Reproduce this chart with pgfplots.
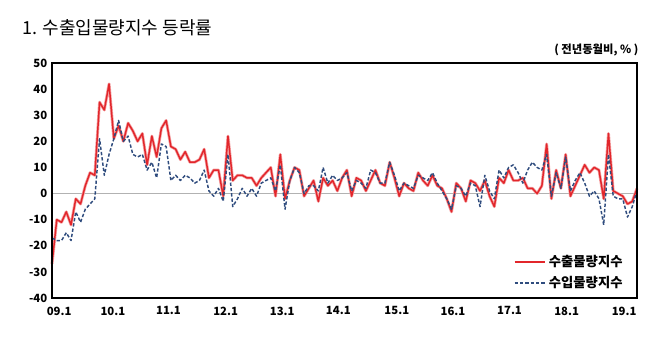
\documentclass[border=0pt]{standalone}
\usepackage{fontspec}
\setmainfont{Noto Sans CJK KR}
\usepackage{pgfplots}
\usepackage{pgfplotstable}
\pgfplotsset{compat=1.18}
\definecolor{exred}{HTML}{E2262B}
\definecolor{exglow}{HTML}{F4A3A5}
\definecolor{imblue}{HTML}{2F4C7E}
\pgfplotstableread{
i ex im
0 -27 -17
1 -10 -18
2 -11 -18
3 -7 -15
4 -12 -18
5 -2 -7
6 -4 -11
7 3 -6
8 8 -4
9 7 -2
10 35 21
11 32 7
12 42 15
13 21 21
14 26 28
15 20 20
16 27 22
17 24 15
18 20 14
19 23 15
20 11 9
21 22 12
22 14 6
23 25 19
24 28 18
25 18 5
26 17 7
27 13 5
28 16 7
29 12 6
30 12 4
31 13 5
32 17 9
33 6 1
34 9 -1
35 9 2
36 -1 -3
37 22 15
38 5 -5
39 7 -2
40 7 2
41 6 -1
42 6 2
43 3 -1
44 6 4
45 8 5
46 10 6
47 -1 1
48 15 11
49 -2 -6
50 5 5
51 10 10
52 9 8
53 -1 0
54 2 3
55 5 3
56 -3 1
57 6 10
58 3 4
59 5 7
60 1 5
61 6 6
62 9 8
63 -1 1
64 6 5
65 5 4
66 1 2
67 5 9
68 9 8
69 4 4
70 3 4
71 12 12
72 6 7
73 -1 1
74 4 4
75 2 3
76 1 2
77 8 7
78 5 6
79 3 5
80 7 8
81 3 4
82 2 1
83 -2 -2
84 -7 -6
85 4 3
86 2 2
87 -3 -1
88 5 4
89 4 3
90 1 -5
91 5 7
92 -1 1
93 -5 -2
94 6 9
95 4 6
96 9 10
97 5 11
98 5 8
99 6 4
100 2 9
101 2 12
102 0 10
103 3 9
104 19 15
105 -2 -1
106 9 8
107 2 2
108 15 14
109 -1 1
110 3 5
111 7 8
112 11 4
113 8 -1
114 10 1
115 9 -2
116 -2 -12
117 23 15
118 1 -1
119 0 -2
120 -1 -2
121 -4 -9
122 -3 -5
123 2 1
}\data
\begin{document}
\begin{tikzpicture}
\path[use as bounding box] (0,0) rectangle (502.5pt,-264.75pt);
\node[anchor=west, inner sep=0pt, font=\fontsize{13.5}{14}\selectfont] at (16.5pt,-21pt) {1. 수출입물량지수 등락률};
\node[anchor=east, inner sep=0pt, font=\bfseries\fontsize{8.5}{9}\selectfont] at (479pt,-37.5pt) {( 전년동월비, \% )};
\begin{axis}[
  at={(39pt,-223.5pt)}, anchor=south west,
  scale only axis, width=438.75pt, height=176.25pt,
  clip=false,
  axis lines=box,
  axis background/.style={draw=black, line width=1.5pt},
  xmin=0, xmax=123, ymin=-40, ymax=50,
  ytick={-40,-30,...,50},
  xtick={1.5,12.8,24.5,36.5,48.4,60.2,72.5,84.3,96.2,108.2,120.3},
  xticklabels={09.1,10.1,11.1,12.1,13.1,14.1,15.1,16.1,17.1,18.1,19.1},
  /pgf/number format/assume math mode=true,
  x tick label style={font=\bfseries\fontsize{8.5}{9}\selectfont, yshift=-3pt},
  y tick label style={font=\bfseries\fontsize{8.5}{9}\selectfont},
  axis line style={black, line width=1.5pt},
  major tick length=0pt,
]
\addplot[gray!60, line width=0.9pt, forget plot] coordinates {(0,0) (123,0)};
\addplot[exglow, line width=2.2pt, line join=round, forget plot] table[x=i,y=ex] {\data};
\addplot[exred, line width=1.1pt, line join=round, forget plot] table[x=i,y=ex] {\data};
\addplot[imblue, line width=1.1pt, line join=round, dash pattern=on 2.5pt off 1.5pt, forget plot] table[x=i,y=im] {\data};
\end{axis}
\fill[black] (38.25pt,-46.5pt) rectangle (478.5pt,-48pt);
\fill[black] (477pt,-46.5pt) rectangle (478.5pt,-224.25pt);
\fill[black] (38.25pt,-222.75pt) rectangle (478.5pt,-224.25pt);
\fill[black] (38.25pt,-46.5pt) rectangle (39.75pt,-224.25pt);
\draw[exred, line width=1.4pt] (386pt,-196.5pt) -- (409pt,-196.5pt);
\node[anchor=west, inner sep=0pt, font=\bfseries\fontsize{10}{11}\selectfont] at (411.5pt,-196.5pt) {수출물량지수};
\draw[imblue, line width=1.1pt, dash pattern=on 2.5pt off 1.5pt] (386pt,-212.25pt) -- (409pt,-212.25pt);
\node[anchor=west, inner sep=0pt, font=\bfseries\fontsize{10}{11}\selectfont] at (411.5pt,-212.25pt) {수입물량지수};
\end{tikzpicture}
\end{document}
